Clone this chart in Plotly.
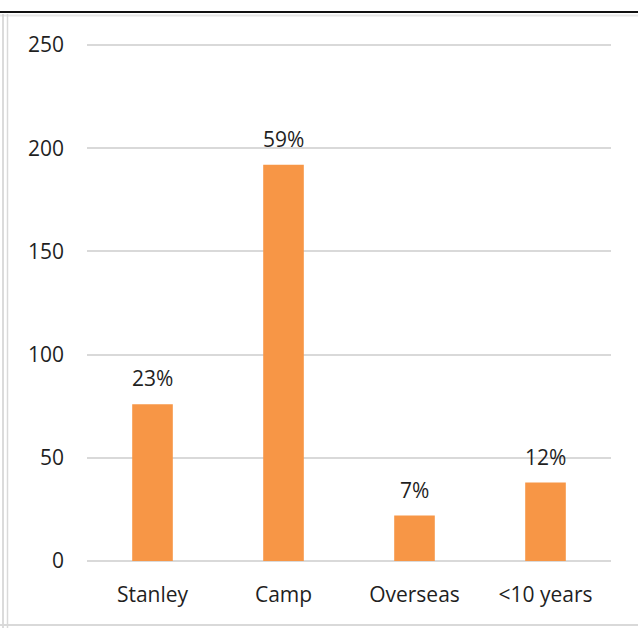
import plotly.graph_objects as go

categories = ["Stanley", "Camp", "Overseas", "<10 years"]
values = [76, 192, 22, 38]
pct_labels = ["23%", "59%", "7%", "12%"]
y_ticks = [0, 50, 100, 150, 200, 250]

FONT = "Open Sans, Lato, Liberation Sans, sans-serif"
TXT = "#1f1f1f"
BAR = "#F79646"
GRID = "#d9d9d9"
FS = 21

W, H = 638, 628
ML, MR, MT, MB = 87, 27, 44, 67

fig = go.Figure()
fig.add_trace(go.Bar(
    x=categories, y=values,
    marker=dict(color=BAR, line=dict(width=0)),
    width=0.31,
    hoverinfo="x+y",
))

for c, v, t in zip(categories, values, pct_labels):
    fig.add_annotation(x=c, y=v, text=t, showarrow=False,
                       yanchor="bottom", yshift=10,
                       font=dict(family=FONT, size=FS, color=TXT))

fig.update_layout(
    width=W, height=H,
    margin=dict(l=ML, r=MR, t=MT, b=MB),
    paper_bgcolor="white", plot_bgcolor="white",
    showlegend=False,
    font=dict(family=FONT, size=FS, color=TXT),
    xaxis=dict(showgrid=False, showline=False, zeroline=False, ticks="",
               ticklabelstandoff=19,
               tickfont=dict(family=FONT, size=FS, color=TXT)),
    yaxis=dict(range=[0, 250.5], tickvals=y_ticks, showgrid=True,
               gridcolor=GRID, gridwidth=2, zeroline=True,
               zerolinecolor=GRID, zerolinewidth=2, showline=False,
               ticks="", ticklabelstandoff=22,
               tickfont=dict(family=FONT, size=FS, color=TXT)),
)

pw = W - ML - MR
ph = H - MT - MB
def px(xp):
    return (xp - ML) / pw
def py(yp):
    return (H - MB - yp) / ph

fig.add_shape(type="line", xref="paper", yref="paper",
              x0=px(0), x1=px(638), y0=py(12), y1=py(12),
              line=dict(color="#111111", width=2))
fig.add_shape(type="line", xref="paper", yref="paper",
              x0=px(0), x1=px(638), y0=py(15.5), y1=py(15.5),
              line=dict(color="#e6e6e6", width=2))
fig.add_shape(type="line", xref="paper", yref="paper",
              x0=px(3), x1=px(3), y0=py(14), y1=py(628),
              line=dict(color="#cfcfcf", width=1.5))
fig.add_shape(type="line", xref="paper", yref="paper",
              x0=px(7.5), x1=px(7.5), y0=py(14), y1=py(628),
              line=dict(color="#d9d9d9", width=1.5))
fig.add_shape(type="line", xref="paper", yref="paper",
              x0=px(0), x1=px(638), y0=py(625), y1=py(625),
              line=dict(color="#d9d9d9", width=2))

fig.write_html("out.html",
               config={"displayModeBar": False},
               post_script="document.body.style.margin='0';document.body.style.padding='0';")
